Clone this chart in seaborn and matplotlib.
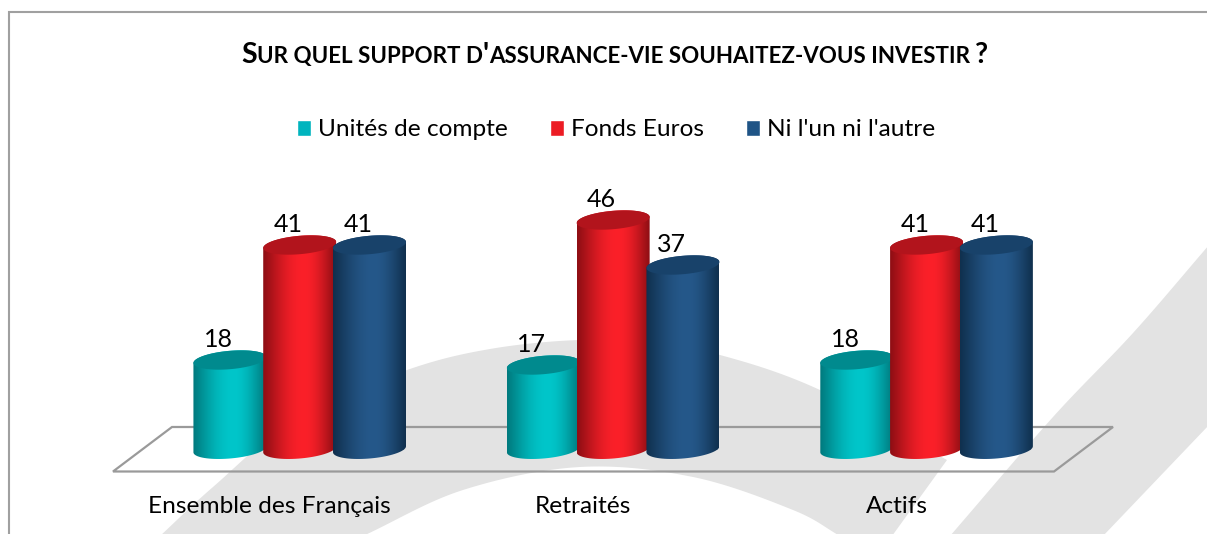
import numpy as np
import pandas as pd
import matplotlib
matplotlib.use("Agg")
import matplotlib.pyplot as plt
import seaborn as sns
from matplotlib.path import Path
from matplotlib.patches import Polygon
from matplotlib.transforms import ScaledTranslation

categories = ["Ensemble des Français", "Retraités", "Actifs"]
series_names = ["Unités de compte", "Fonds Euros", "Ni l'un ni l'autre"]
unites_de_compte = [18, 17, 18]
fonds_euros = [41, 46, 41]
ni_l_un = [41, 37, 41]

W, H = 1207, 534
FONT = "Lato"
legend_colors = ["#00B4BE", "#EC1C24", "#1F5486"]
side_colors = ["#007A7E", "#8E0E14", "#10304E"]
mid_colors = ["#00C6CA", "#FB2029", "#25588A"]
top_colors = ["#008A8E", "#B2141C", "#18426A"]

df = pd.DataFrame({
    "cat": categories * 3,
    "serie": [s for s in series_names for _ in categories],
    "val": unites_de_compte + fonds_euros + ni_l_un,
})

sns.set_theme(style="white")
plt.rcParams["font.family"] = [FONT, "DejaVu Sans"]
fig = plt.figure(figsize=(W / 100, H / 100), dpi=100, facecolor="white")


def px_axes(z):
    a = fig.add_axes([0, 0, 1, 1], zorder=z)
    a.set_xlim(0, W)
    a.set_ylim(H, 0)
    a.axis("off")
    return a


def smooth(pts, n=24):
    p = np.array(pts, float)
    p = np.vstack([2 * p[0] - p[1], p, 2 * p[-1] - p[-2]])
    out = []
    for i in range(1, len(p) - 2):
        t = np.linspace(0, 1, n, endpoint=False)[:, None]
        a, b, c, d = p[i - 1], p[i], p[i + 1], p[i + 2]
        out.append(0.5 * (2 * b + (c - a) * t + (2 * a - 5 * b + 4 * c - d) * t**2 + (3 * b - a - 3 * c + d) * t**3))
    out.append(p[-2][None])
    return np.vstack(out)


# background: decorative swooshes, frame and floor
bg = px_axes(0)
outer = smooth([(160, 536), (213, 487), (300, 415), (407, 370), (490, 349), (580, 340), (650, 344), (720, 355), (820, 390), (947, 460)])
inner = smooth([(840, 536), (793, 510), (693, 477), (580, 467), (463, 490), (363, 536)])
bg.add_patch(Polygon(np.vstack([outer, [(892, 536)], inner]), closed=True, fc="#E3E3E3", ec="none"))
left = smooth([(950, 536), (1053, 417), (1133, 333), (1209, 245)])
right = smooth([(1209, 425), (1103, 536)])
bg.add_patch(Polygon(np.vstack([left, right]), closed=True, fc="#E3E3E3", ec="none"))
bg.plot([9, 9, W], [H, 11.5, 11.5], color="#A0A0A0", lw=1.5, solid_joinstyle="miter")
bg.add_patch(Polygon([(113, 471.5), (172, 427), (1113, 427), (1054, 471.5)], closed=True, fc="none", ec="#9A9A9A", lw=1.6))

# main chart
y0_px, unit_px = 450, 5
ymax = 50
x_left, x_right = 143.0, 1083.3
ax = fig.add_axes([x_left / W, (H - y0_px) / H, (x_right - x_left) / W, ymax * unit_px / H], zorder=1)
ax.patch.set_visible(False)
sns.barplot(data=df, x="cat", y="val", hue="serie", order=categories, hue_order=series_names,
            palette=legend_colors, width=0.668, gap=0, saturation=1, ax=ax, errorbar=None, legend=True)
ax.set_ylim(0, ymax)
ax.set_xlim(-0.5, 2.5)
ax.set_xlabel("")
ax.set_ylabel("")
ax.set_yticks([])
sns.despine(ax=ax, left=True, bottom=True)
ax.tick_params(axis="x", length=0, pad=33, labelsize=17.6)
off = ScaledTranslation(-30 / 100, 0, fig.dpi_scale_trans)
for lab in ax.get_xticklabels():
    lab.set_transform(lab.get_transform() + off)
    lab.set_color("black")

# legend
handles, labels = ax.get_legend_handles_labels()
ax.get_legend().remove()
fig.legend(handles, labels, loc="center left", bbox_to_anchor=(297 / W, 1 - 130 / H), ncol=3, frameon=False,
           fontsize=17.6, handlelength=0.57, handleheight=0.62, handletextpad=0.27, columnspacing=1.75,
           borderpad=0, borderaxespad=0, labelcolor="black")

# cylinders drawn over the library's bars, left to right so each overlaps the previous one
ovl = px_axes(2)
rx_extra, ry, skew = 1.6, 9.2, 3.0
z = 2
for g in range(len(categories)):
    for k, cont in enumerate(ax.containers):
        grad = np.zeros((1, 256, 3))
        c_s, c_m = np.array(matplotlib.colors.to_rgb(side_colors[k])), np.array(matplotlib.colors.to_rgb(mid_colors[k]))
        u = np.linspace(0, 1, 256)
        w = np.where(u < 0.56, u / 0.56, (1 - u) / 0.44)
        w = np.sin(w * np.pi / 2) ** 1.1
        grad[0] = c_s + (c_m - c_s) * w[:, None]
        bar = cont[g]
        (x0, yb), (x1, yt) = ax.transData.transform([(bar.get_x(), 0), (bar.get_x() + bar.get_width(), bar.get_height())])
        yb, yt = H - yb, H - yt
        x0 -= rx_extra
        x1 += rx_extra
        cx, rx = (x0 + x1) / 2, (x1 - x0) / 2

        def arc(cy, t):
            return np.c_[cx + rx * np.cos(t), cy + ry * np.sin(t) - skew * np.cos(t)]

        body = np.vstack([arc(yt, np.linspace(np.pi, 2 * np.pi, 40)), arc(yb - 0.7, np.linspace(0, np.pi, 40))])
        clip = Path(np.vstack([body, body[:1]]))
        im = ovl.imshow(grad, extent=(x0, x1, yb + 12, yt - 12), aspect="auto", interpolation="bilinear", zorder=z)
        im.set_clip_path(clip, transform=ovl.transData)
        bar.set_clip_path(clip, transform=ovl.transData)
        ovl.add_patch(Polygon(arc(yt, np.linspace(0, 2 * np.pi, 80)), closed=True, fc=top_colors[k], ec="none", zorder=z + 1))
        ovl.text(cx - 11.5, yt - 20.5, f"{int(bar.get_height())}", ha="center", va="center", fontsize=18, color="black", zorder=50)
        z += 2
ovl.set_xlim(0, W)
ovl.set_ylim(H, 0)

# small-caps title made of runs
big, small = 20.5, 16.1
runs = [("S", big), ("UR QUEL SUPPORT D", small), ("'", big),
        ("ASSURANCE-VIE SOUHAITEZ-VOUS INVESTIR ", small), ("?", big)]
rend = fig.canvas.get_renderer()


def run_width(s, size):
    a = ovl.text(0, 0, s + "|", fontsize=size, fontweight="bold")
    b = ovl.text(0, 0, "|", fontsize=size, fontweight="bold")
    w = a.get_window_extent(rend).width - b.get_window_extent(rend).width
    a.remove()
    b.remove()
    return w


x = 241.0
for s, size in runs:
    ovl.text(x, 63, s, fontsize=size, fontweight="bold", va="baseline", ha="left", color="black")
    x += run_width(s, size)

fig.savefig("out.png", dpi=100)
